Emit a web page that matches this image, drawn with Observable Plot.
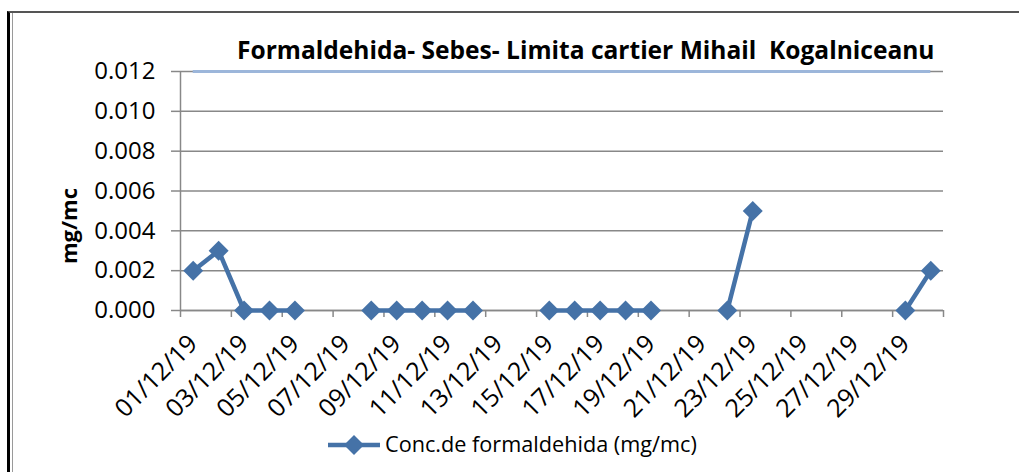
<!DOCTYPE html>
<html>
<head>
<meta charset="utf-8">
<script src="https://cdn.jsdelivr.net/npm/d3@7"></script>
<script src="https://cdn.jsdelivr.net/npm/@observablehq/plot@0.6"></script>
<style>
  body { margin: 0; background: #fff; }
  #wrap { position: relative; width: 1019px; height: 472px; overflow: hidden; font-family: "Open Sans", sans-serif; color: #000; }
  #chart svg { display: block; }
  #frameOuter { position: absolute; left: 7px; top: 11px; width: 1020px; height: 470px; border-left: 3px solid #000; border-top: 2px solid #555; box-sizing: border-box; }
  #frameInner { position: absolute; left: 12px; top: 13px; width: 1px; height: 460px; background: #9a9a9a; }
  #title { position: absolute; left: 237px; top: 38px; font-weight: bold; font-size: 22px; white-space: pre; line-height: 1; }
  #ylabel { position: absolute; left: 68px; top: 226px; font-weight: bold; font-size: 22px; white-space: nowrap; transform: translate(-50%, -50%) rotate(-90deg); line-height: 1; }
  #legend { position: relative; height: 47px; }
  #legendKey { position: absolute; left: 327px; top: 10px; }
  #legendText { position: absolute; left: 385px; top: 5px; font-size: 22px; white-space: nowrap; line-height: 1.3; }
</style>
</head>
<body>
<div id="wrap">
  <div id="chart"></div>
  <div id="legend">
    <svg id="legendKey" width="56" height="20"></svg>
    <span id="legendText"></span>
  </div>
  <div id="title"></div>
  <div id="ylabel"></div>
  <div id="frameOuter"></div>
  <div id="frameInner"></div>
</div>
<script>
// ---- data ----
const dates = ["01/12/19","02/12/19","03/12/19","04/12/19","05/12/19","06/12/19","07/12/19","08/12/19","09/12/19","10/12/19",
               "11/12/19","12/12/19","13/12/19","14/12/19","15/12/19","16/12/19","17/12/19","18/12/19","19/12/19","20/12/19",
               "21/12/19","22/12/19","23/12/19","24/12/19","25/12/19","26/12/19","27/12/19","28/12/19","29/12/19","30/12/19"];
const conc  = [0.002, 0.003, 0, 0, 0, null, null, 0, 0, 0,
               0, 0, null, null, 0, 0, 0, 0, 0, null,
               null, 0, 0.005, null, null, null, null, null, 0, 0.002];
const limitValue = [0.012];
const yTicks = [0, 0.002, 0.004, 0.006, 0.008, 0.010, 0.012];
const xTickLabels = ["01/12/19","03/12/19","05/12/19","07/12/19","09/12/19","11/12/19","13/12/19","15/12/19",
                     "17/12/19","19/12/19","21/12/19","23/12/19","25/12/19","27/12/19","29/12/19"];
const titleText = "Formaldehida- Sebes- Limita cartier Mihail  Kogalniceanu";
const yLabelText = "mg/mc";
const seriesName = "Conc.de formaldehida (mg/mc)";

// ---- derived ----
const rows = dates.map((d, i) => ({day: i + 1, date: d, conc: conc[i]}));
const labelDays = xTickLabels.map(l => dates.indexOf(l) + 1);
const boundaries = labelDays.map(d => d - 0.5).concat([dates.length + 0.5]);
const firstDay = 1, lastDay = dates.length;

const blue = "#4572A7";
const grid = "#888888";

const chart = Plot.plot({
  width: 1019,
  height: 425,
  marginLeft: 180,
  marginRight: 76,
  marginTop: 71,
  marginBottom: 115,
  style: {fontFamily: '"Open Sans", sans-serif', fontSize: "22px", color: "#000", background: "transparent", overflow: "visible"},
  x: {type: "linear", domain: [0.5, dates.length + 0.5]},
  y: {domain: [0, 0.012]},
  marks: [
    Plot.gridY(yTicks, {stroke: grid, strokeOpacity: 1, strokeWidth: 1.5}),
    Plot.axisY(yTicks, {tickSize: 9, tickPadding: 16, stroke: grid, strokeWidth: 1.5, fill: "#000", fontSize: 24, tickFormat: d3.format(".3f"), label: null}),
    Plot.ruleX([0.5], {y1: 0, y2: 0.012, stroke: grid, strokeWidth: 1.5}),
    Plot.ruleY([0], {stroke: grid, strokeWidth: 1.5}),
    Plot.axisX(boundaries, {tickSize: 7, stroke: grid, strokeWidth: 1.5, tickFormat: () => "", label: null}),
    Plot.axisX(labelDays, {tickSize: 0, tickPadding: 29, tickRotate: -45, fill: "#000", fontSize: 25, tickFormat: d => dates[d - 1], label: null}),
    Plot.ruleY(limitValue, {x1: firstDay, x2: lastDay, stroke: "#9CB6DA", strokeWidth: 3}),
    Plot.line(rows, {x: "day", y: "conc", stroke: blue, strokeWidth: 4.5}),
    Plot.dot(rows.filter(d => d.conc != null), {x: "day", y: "conc", symbol: "diamond2", r: 9, fill: blue, stroke: "none"})
  ]
});
document.getElementById("chart").appendChild(chart);

document.getElementById("title").textContent = titleText;
document.getElementById("ylabel").textContent = yLabelText;
document.getElementById("legendText").textContent = seriesName;

// legend key
const key = d3.select("#legendKey");
key.append("line").attr("x1", 1).attr("x2", 53).attr("y1", 10).attr("y2", 10).attr("stroke", blue).attr("stroke-width", 4.5);
key.append("path").attr("transform", "translate(27,10)").attr("d", d3.symbol(d3.symbolDiamond2, Math.PI * 81)()).attr("fill", blue);

// fit text widths
function fit(el, target) {
  const w = el.getBoundingClientRect().width;
  const fs = parseFloat(getComputedStyle(el).fontSize);
  el.style.fontSize = (fs * target / w) + "px";
}
fit(document.getElementById("title"), 698);
fit(document.getElementById("legendText"), 312);
</script>
</body>
</html>
